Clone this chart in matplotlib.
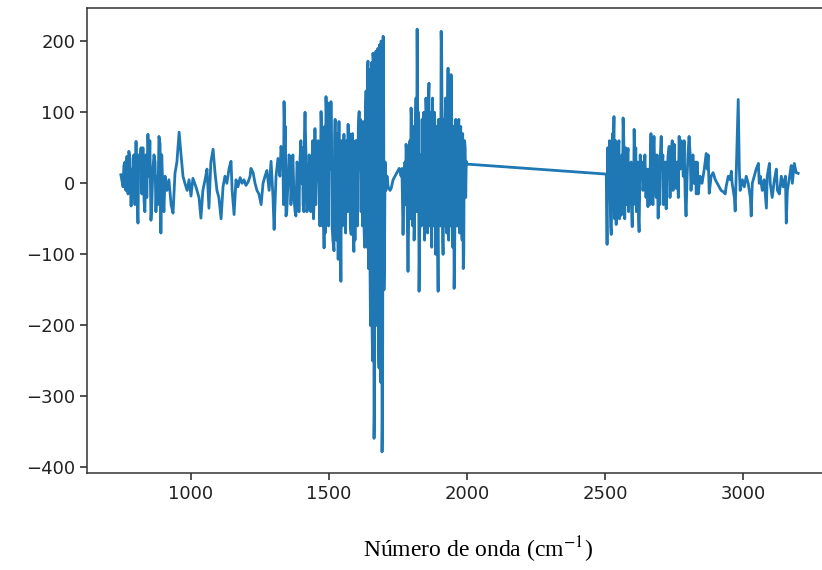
"""Second-derivative style FTIR trace, 750-2000 and 2500-3200 cm-1."""
import numpy as np
import matplotlib

matplotlib.use("Agg")
import matplotlib.pyplot as plt

# --- values (wavenumber, signal) ---
WN_LOW_A = [746, 754, 761, 764, 768, 772, 775, 783, 786, 793, 801, 804, 808, 815, 819,
            822, 830, 837, 844, 848, 855, 862, 870, 877, 884, 888, 891, 899, 906, 913,
            920, 928, 935, 942, 949, 957, 964, 971, 978, 986, 993, 1000, 1007, 1018, 1029,
            1036, 1043, 1051, 1058, 1065, 1072, 1080, 1087, 1094, 1101, 1109, 1116, 1123,
            1130, 1138, 1145]
VAL_LOW_A = [12, -5, 30, -10, 38, -15, 45, -32, 20, 40, 59, -10, -56, 30, 50,
             -15, -25, 40, 69, 10, -52, 20, 30, 10, 66, 55, -70, -20, 10, -10,
             5, -30, -42, 14, 30, 72, 40, 10, 0, -10, 5, -18, 7, -5, -20,
             -49, -10, 5, 20, -35, 30, 48, 15, -10, -20, -50, -5, 10,
             0, 21, 31]

WN_LOW_B = [1149, 1152, 1156, 1163, 1170, 1178, 1185, 1192, 1199, 1207, 1214, 1217, 1225,
            1232, 1239, 1246, 1254, 1261, 1268, 1275, 1283, 1290, 1297, 1301, 1308, 1315,
            1322, 1326, 1333, 1337, 1340, 1344, 1351, 1359, 1366, 1373, 1380, 1388, 1395,
            1402, 1406, 1413, 1417, 1424, 1431, 1438, 1446, 1449, 1456, 1464, 1471, 1478,
            1482, 1489, 1493, 1496, 1504, 1507, 1511, 1518, 1522]
VAL_LOW_B = [-10, -25, -44, 5, -5, 8, 0, 5, -3, 2, 10, 21, 15,
             0, -10, -15, -30, 0, 10, 18, -10, 31, -20, -65, 10, 35,
             10, 52, 30, 115, 60, -46, 0, 35, 10, -20, -46, 20, 35,
             0, -30, 100, 30, -30, 10, 30, -20, 77, 50, 0, 101, 40,
             -91, 122, 60, 113, 20, 115, -60, -95, 90]

WN_LOW_C = [1525, 1529, 1533, 1536, 1540, 1543, 1547, 1551, 1554, 1558, 1562, 1569, 1572,
            1580, 1583, 1587, 1590, 1598, 1601, 1609, 1612, 1616, 1619, 1623, 1627, 1630,
            1634, 1641, 1645, 1648, 1652, 1656, 1659, 1663, 1666, 1670, 1674, 1677, 1681,
            1685, 1688, 1692, 1696, 1699, 1703, 1706, 1710, 1714, 1721, 1725, 1732, 1739,
            1746, 1754, 1761]
VAL_LOW_C = [-20, 30, -107, 87, 0, -138, -50, 40, 69, -20, 10, 83, 0,
             -72, 30, -50, -96, 17, 60, 101, 20, -40, 60, 87, -68, 20,
             130, 172, 50, -100, 144, -211, 183, -359, 120, 186, -150, 190, -260,
             100, 200, -378, 207, -150, 30, -10, 10, -5, -10, -7, 5, 10,
             15, 21, 10]

WN_LOW_D = [1764, 1768, 1772, 1775, 1779, 1783, 1786, 1790, 1793, 1797, 1801, 1804, 1808,
            1812, 1819, 1822, 1826, 1830, 1833, 1841, 1844, 1848, 1851, 1855, 1859, 1862,
            1866, 1870, 1873, 1877, 1884, 1888, 1895, 1899, 1902, 1906, 1910, 1913, 1917,
            1920, 1924, 1931, 1935, 1939, 1942, 1946, 1949, 1953, 1957, 1960, 1968, 1971,
            1975, 1978, 1982, 1986, 1989, 1993, 1997, 2000]
VAL_LOW_D = [21, -72, 0, 30, 55, -40, -124, 20, 60, 106, 40, -20, -80,
             60, 217, 50, -152, -30, 40, 69, 10, -30, 120, 60, 100, 141,
             30, -39, 50, -10, 69, -20, -152, 20, 90, 214, 40, -100, 20,
             80, 30, 162, -49, 60, 153, 40, -60, -148, 20, 50, 73, 0,
             60, -20, -80, -120, 0, 50, 31, 27]

# in-between readings where the trace is densest
WN_DENSE_LOW = [757, 779, 790, 797, 811, 826, 833, 840, 851, 858, 866, 873, 880, 894, 902,
                1335, 1342, 1347, 1355, 1362, 1369, 1377, 1384, 1391, 1398, 1404, 1409,
                1411, 1420, 1428, 1434, 1441, 1444, 1452, 1460, 1467, 1474, 1476,
                1484, 1486, 1498, 1500, 1509, 1514, 1520, 1527, 1531, 1538, 1545, 1549,
                1556, 1560, 1565, 1567, 1574, 1577, 1585, 1592, 1594, 1596, 1603, 1606,
                1614, 1621, 1625, 1629, 1632, 1637, 1639, 1643, 1647, 1650, 1654, 1658,
                1661, 1665, 1668, 1672, 1676, 1679, 1683, 1687, 1690, 1694, 1698, 1701,
                1777, 1781, 1788, 1795, 1799, 1803, 1806, 1810, 1815, 1817, 1824, 1828,
                1835, 1837, 1839, 1843, 1846, 1850, 1853, 1857, 1860, 1864, 1868, 1872,
                1875, 1879, 1882, 1886, 1890, 1893, 1897, 1904, 1908, 1912, 1915, 1919,
                1922, 1926, 1929, 1933, 1937, 1941, 1944, 1948, 1951, 1955, 1959, 1962,
                1964, 1966, 1970, 1973, 1977, 1980, 1984, 1988, 1991, 1995]
VAL_DENSE_LOW = [25, 35, -20, -30, 40, 50, -40, -20, 60, -30, 40, -40, -30, 40, -40,
                 -30, 80, -40, 40, -30, 40, -40, 30, -40, 60, 50, -40,
                 70, -40, 40, -40, 60, -50, -30, 60, -60, 60, -60,
                 80, -70, -60, 90, 70, -80, 60, -80, 70, -90, 60, -60,
                 50, -70, 60, -40, 70, -60, 70, 50, -80, 60, -60, 80,
                 90, -60, 80, -90, 100, -90, 150, -120, 160, -200, 170, -250,
                 175, -300, 180, -200, 185, -230, 195, -280, 200, -300, 100, -100,
                 -30, 40, -60, -50, 90, -60, 80, -50, 120, -40, 100, -80,
                 -60, 90, -50, 100, -80, -60, 90, -70, 120, -60, 100, -90,
                 120, -60, 100, -100, 80, -60, 90, -60, 180, -80, 90, -60,
                 120, -70, 90, -80, 120, -60, 100, -90, 80, -100, 90, -60,
                 80, -60, 90, -70, 80, -60, 70, -100, 60, -20]

WN_HIGH_A = [2504, 2507, 2511, 2514, 2518, 2522, 2525, 2529, 2532, 2536, 2540, 2543, 2547,
             2554, 2558, 2561, 2565, 2569, 2572, 2576, 2583, 2587, 2590, 2598, 2601, 2605,
             2608, 2616, 2623, 2630, 2637, 2641, 2648, 2655, 2659, 2666, 2670, 2677, 2681,
             2685, 2692, 2695, 2703, 2706, 2714, 2721, 2724, 2732, 2739, 2743, 2750, 2754,
             2757, 2761, 2768, 2772, 2779, 2783, 2790, 2793, 2797, 2804, 2808, 2815, 2822,
             2830, 2833, 2837, 2844]
VAL_HIGH_A = [13, -86, 10, 27, -20, -72, 0, 40, 94, 30, -58, 10, 44,
              -10, -45, 40, 92, 30, 0, -20, 49, 0, -7, -61, 20, 76,
              20, -20, -68, 7, -10, 10, -20, -33, 20, 70, 10, 66, 0,
              -20, -49, 10, 66, 20, -10, -36, 10, 52, 40, 60, 55, 10,
              -7, 30, 66, 20, 40, 10, -20, -46, 10, 66, 40, 20, 0,
              -15, 30, -15, 10]

WN_HIGH_B = [2851, 2859, 2866, 2870, 2873, 2877, 2884, 2891, 2899, 2906, 2913, 2920, 2928,
             2935, 2938, 2946, 2953, 2957, 2960, 2968, 2971, 2975, 2982, 2986, 2989, 2997,
             3004, 3011, 3018, 3026, 3029, 3033, 3040, 3047, 3055, 3058, 3062, 3069, 3076,
             3084, 3087, 3095, 3098, 3105, 3113, 3120, 3124, 3131, 3138, 3145, 3153, 3156,
             3160, 3167, 3174, 3178, 3185, 3192, 3199]
VAL_HIGH_B = [0, 20, 42, 20, 40, -14, 10, 15, 5, 0, -5, -10, -12,
              -15, -5, 10, 5, 17, 0, -20, -39, 20, 118, 20, -10, 5,
              -5, 10, 0, -20, -46, 0, 10, 20, 28, 0, 10, -10, 5,
              -35, 10, 28, 0, -20, 5, 20, -10, -15, 10, -5, 10, -56,
              -10, 7, 25, 0, 28, 15, 14]

WN_DENSE_HIGH = [2509, 2516, 2520, 2527, 2534, 2538, 2545, 2550, 2552, 2556, 2563, 2567,
                 2571, 2574, 2579, 2581, 2585, 2594, 2596, 2603, 2611, 2613, 2619, 2621,
                 2627, 2634, 2644, 2651, 2662, 2664, 2673, 2675, 2688, 2698, 2700, 2709,
                 2711, 2718, 2728, 2735, 2746, 2765, 2775, 2786, 2800, 2811, 2818, 2826]
VAL_DENSE_HIGH = [50, 60, -60, 70, -50, 60, -40, 60, -50, 30, -40, 70,
                  -50, 50, -30, 40, -40, 30, -40, -30, 50, -40, 30, -50,
                  40, 30, 40, 20, -30, 50, -30, 50, 40, -30, 40, 40,
                  -30, 30, 40, -20, -10, -20, 60, 60, 40, -10, 40, 30]

XLABEL = "Número de onda (cm$^{-1}$)"


def main():
    plt.rcParams.update({"font.family": "DejaVu Sans", "mathtext.fontset": "stix"})
    wn = np.concatenate([WN_LOW_A, WN_LOW_B, WN_LOW_C, WN_LOW_D, WN_DENSE_LOW,
                         WN_HIGH_A, WN_HIGH_B, WN_DENSE_HIGH])
    val = np.concatenate([VAL_LOW_A, VAL_LOW_B, VAL_LOW_C, VAL_LOW_D, VAL_DENSE_LOW,
                          VAL_HIGH_A, VAL_HIGH_B, VAL_DENSE_HIGH])
    order = np.argsort(wn, kind="stable")
    wn, val = wn[order], val[order]

    fig = plt.figure(figsize=(8.22, 5.70), dpi=100)
    # axes run slightly past the right edge, as in the cropped original
    ax = fig.add_axes([87 / 822, 97 / 570, 745 / 822, 465 / 570])
    ax.plot(wn, val, color="#1f77b4", lw=2.0)

    ax.set_xticks([1000, 1500, 2000, 2500, 3000])
    ax.set_yticks([-400, -300, -200, -100, 0, 100, 200])
    ax.tick_params(labelsize=13, length=5, width=1.1, colors="#222222")
    for spine in ax.spines.values():
        spine.set_linewidth(1.1)
        spine.set_color("#333333")

    fig.text(478 / 822, 1 - 550 / 570, XLABEL, ha="center", va="center",
             fontsize=17, family="Liberation Serif")

    fig.savefig("out.png", dpi=100, facecolor="white")
    plt.close(fig)


if __name__ == "__main__":
    main()
